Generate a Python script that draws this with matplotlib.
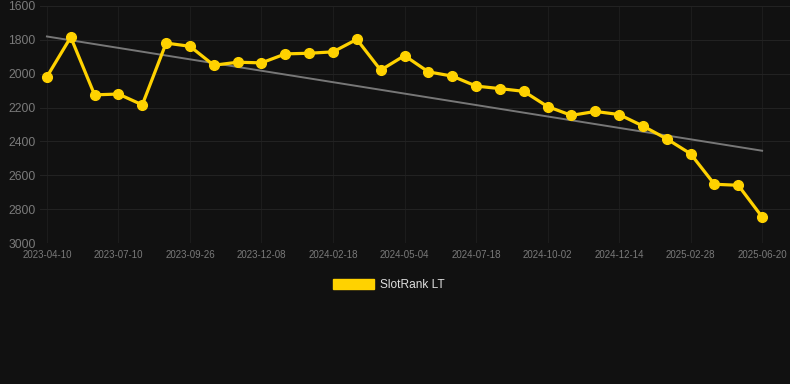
import numpy as np
import matplotlib
matplotlib.use('Agg')
import matplotlib.pyplot as plt

plt.rcParams['font.family'] = ['Liberation Sans', 'DejaVu Sans']

# rank values (lower is better, axis inverted)
ranks = [2018, 1784, 2125, 2120, 2184, 1819, 1838, 1950, 1932, 1936,
         1883, 1879, 1871, 1797, 1979, 1893, 1989, 2014, 2073, 2088,
         2104, 2194, 2246, 2223, 2241, 2309, 2385, 2473, 2653, 2659, 2846]
tick_labels = ['2023-04-10', '2023-07-10', '2023-09-26', '2023-12-08', '2024-02-18',
               '2024-05-04', '2024-07-18', '2024-10-02', '2024-12-14', '2025-02-28',
               '2025-06-20']
trend_ends = [1780, 2455]
y_ticks = [1600, 1800, 2000, 2200, 2400, 2600, 2800, 3000]

bg = '#111111'
fig = plt.figure(figsize=(7.9, 3.84), dpi=100, facecolor=bg)
ax = fig.add_axes([40/790, 1 - 243/384, 750/790, 237/384])
ax.set_facecolor(bg)

x = np.arange(len(ranks))
ax.plot([x[0], x[-1]], trend_ends, color='#777777', lw=1.4, zorder=2)
ax.plot(x, ranks, color='#FFD200', lw=2.3, marker='o', markersize=7,
        label='SlotRank LT', zorder=3)

ax.set_xlim(-0.29, 31.17)
ax.set_ylim(3000, 1600)
ax.set_yticks(y_ticks)
ax.set_xticks(x[::3])
ax.set_xticklabels(tick_labels)
ax.grid(True, axis='y', color='#222222', lw=0.8)
ax.grid(True, axis='x', color='#1c1c1c', lw=0.8)
for s in ax.spines.values():
    s.set_visible(False)
ax.tick_params(axis='y', colors='#7a7a7a', labelsize=8.7, length=0, pad=3)
ax.tick_params(axis='x', colors='#7a7a7a', labelsize=7, length=0, pad=5)

leg = fig.legend(handles=[plt.Rectangle((0, 0), 1, 1, color='#FFD200')],
                 labels=['SlotRank LT'], loc='center', bbox_to_anchor=(0.4925, 1 - 285/384),
                 frameon=False, handlelength=3.4, handleheight=0.9, handletextpad=0.5,
                 fontsize=8.6, labelcolor='#dddddd')

fig.savefig('out.png', dpi=100, facecolor=bg)
